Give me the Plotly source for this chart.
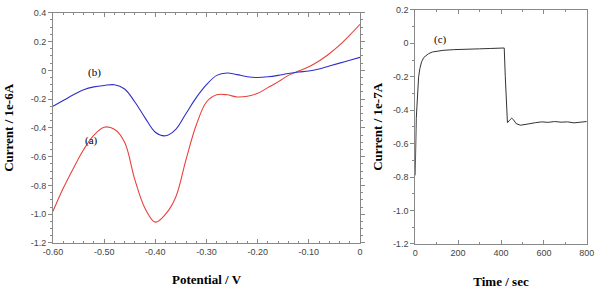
import plotly.graph_objects as go

# ---- data ----
potential = [-0.60, -0.58, -0.56, -0.54, -0.52, -0.50, -0.48, -0.46, -0.44, -0.42,
             -0.40, -0.38, -0.36, -0.34, -0.32, -0.30, -0.28, -0.26, -0.24, -0.22,
             -0.20, -0.18, -0.16, -0.14, -0.12, -0.10, -0.08, -0.06, -0.04, -0.02, 0.00]
current_a = [-0.98, -0.82, -0.68, -0.55, -0.45, -0.395, -0.41, -0.50, -0.76, -0.96,
             -1.055, -1.00, -0.88, -0.62, -0.38, -0.22, -0.17, -0.17, -0.185, -0.18,
             -0.16, -0.12, -0.08, -0.035, -0.005, 0.025, 0.065, 0.115, 0.175, 0.245, 0.32]
current_b = [-0.25, -0.21, -0.17, -0.135, -0.115, -0.105, -0.10, -0.13, -0.22, -0.33,
             -0.43, -0.455, -0.41, -0.30, -0.19, -0.10, -0.035, -0.018, -0.03, -0.045,
             -0.05, -0.045, -0.035, -0.022, -0.012, -0.005, 0.01, 0.03, 0.05, 0.07, 0.09]

time_s = [0, 2, 5, 8, 12, 16, 22, 30, 40, 50, 62, 80, 100, 130, 178, 220, 260, 300, 350,
          390, 415, 420, 425, 430, 440, 450, 460, 470, 490, 510, 530, 560, 590, 620,
          650, 680, 710, 740, 770, 800]
current_c = [-0.79, -0.60, -0.45, -0.38, -0.28, -0.20, -0.15, -0.11, -0.085, -0.072,
             -0.062, -0.052, -0.047, -0.042, -0.038, -0.035, -0.034, -0.033, -0.031,
             -0.030, -0.028, -0.20, -0.40, -0.475, -0.46, -0.448, -0.46, -0.48, -0.49,
             -0.488, -0.482, -0.475, -0.47, -0.473, -0.468, -0.472, -0.47, -0.476, -0.47, -0.468]

fig = go.Figure()
fig.add_trace(go.Scatter(x=potential, y=current_a, mode="lines", line=dict(color="#e8413c", width=1.1, shape="spline"),
                         xaxis="x", yaxis="y", showlegend=False))
fig.add_trace(go.Scatter(x=potential, y=current_b, mode="lines", line=dict(color="#2f2fc8", width=1.1, shape="spline"),
                         xaxis="x", yaxis="y", showlegend=False))
fig.add_trace(go.Scatter(x=time_s, y=current_c, mode="lines", line=dict(color="#333333", width=1),
                         xaxis="x2", yaxis="y2", showlegend=False))

tickfont = dict(family="Liberation Sans, Arial", size=9, color="#444444")
titlefont = dict(family="Liberation Serif, Times New Roman", size=13, color="black")
axcol = "#888888"

common = dict(showline=True, linecolor=axcol, linewidth=1, showgrid=False, zeroline=False,
              tickfont=tickfont, tickcolor=axcol, ticklen=4, automargin=False)

fig.update_layout(
    width=600, height=291, margin=dict(l=0, r=0, t=0, b=0),
    plot_bgcolor="white", paper_bgcolor="white",
    xaxis=dict(domain=[0.0883, 0.6], range=[-0.6, 0.0], tickvals=[-0.6, -0.5, -0.4, -0.3, -0.2, -0.1, 0.0],
               ticktext=["-0.60", "-0.50", "-0.40", "-0.30", "-0.20", "-0.10", "0"],
               ticks="inside", mirror="ticks", anchor="y",
               minor=dict(dtick=0.02, ticks="inside", ticklen=2, tickcolor=axcol),
               title=dict(text="<b>Potential / V</b>", font=titlefont, standoff=19), **common),
    yaxis=dict(domain=[0.165, 0.956], range=[-1.2, 0.4], tickvals=[-1.2, -1.0, -0.8, -0.6, -0.4, -0.2, 0, 0.2, 0.4],
               ticktext=["-1.2", "-1.0", "-0.8", "-0.6", "-0.4", "-0.2", "0", "0.2", "0.4"],
               ticks="outside", mirror="ticks", anchor="x",
               minor=dict(dtick=0.05, ticks="outside", ticklen=2, tickcolor=axcol),
               title=dict(text="<b>Current / 1e-6A</b>", font=titlefont, standoff=14), **common),
    xaxis2=dict(domain=[0.692, 0.978], range=[0, 800], tickvals=[0, 200, 400, 600, 800],
                ticks="inside", mirror="ticks", anchor="y2",
                minor=dict(dtick=100, ticks="inside", ticklen=2, tickcolor=axcol),
                title=dict(text="<b>Time / sec</b>", font=titlefont, standoff=20), **common),
    yaxis2=dict(domain=[0.162, 0.966], range=[-1.2, 0.2], tickvals=[-1.2, -1.0, -0.8, -0.6, -0.4, -0.2, 0, 0.2],
                ticktext=["-1.2", "-1.0", "-0.8", "-0.6", "-0.4", "-0.2", "0", "0.2"],
                ticks="outside", mirror=True, anchor="x2",
                minor=dict(dtick=0.1, ticks="outside", ticklen=2, tickcolor=axcol),
                title=dict(text="<b>Current / 1e-7A</b>", font=titlefont, standoff=7), **common),
)

labfont = dict(family="Liberation Serif, Times New Roman", size=11, color="black")
fig.add_annotation(x=-0.518, y=-0.012, xref="x", yref="y", text="(b)", showarrow=False, font=labfont)
fig.add_annotation(x=-0.524, y=-0.49, xref="x", yref="y", text="(a)", showarrow=False, font=labfont)
fig.add_annotation(x=116, y=0.02, xref="x2", yref="y2", text="(c)", showarrow=False, font=labfont)

fig.write_html("out.html", config={"displayModeBar": False},
               post_script="document.body.style.margin='0';")
